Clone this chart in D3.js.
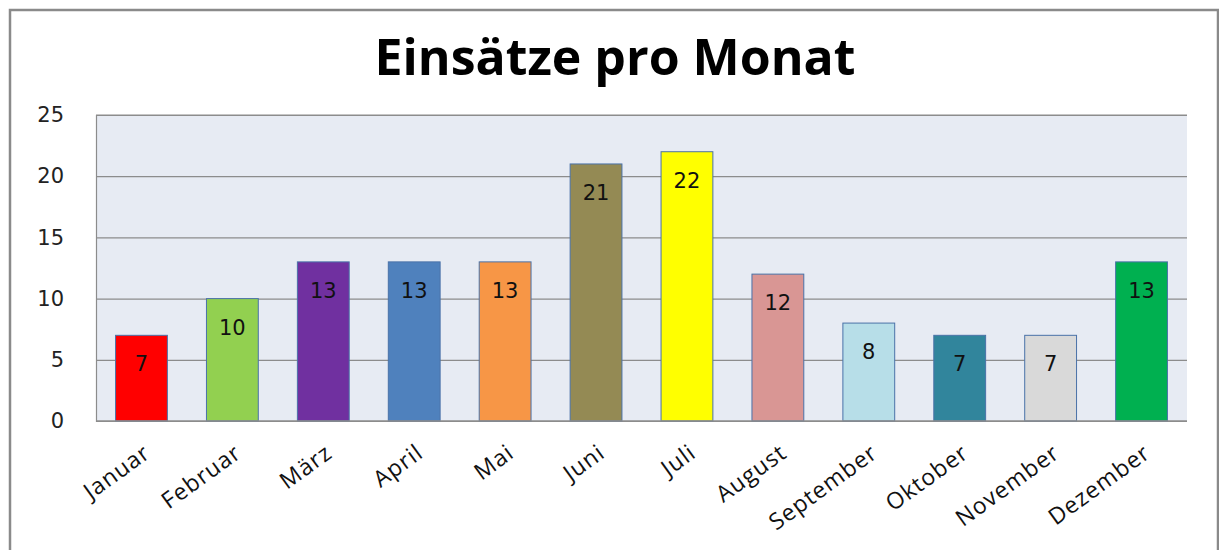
<!DOCTYPE html>
<html>
<head>
<meta charset="utf-8">
<script src="https://cdn.jsdelivr.net/npm/d3@7"></script>
<style>
  body { margin: 0; background: #fff; }
</style>
</head>
<body>
<svg id="chart" width="1219" height="550"></svg>
<script>
var months = ["Januar", "Februar", "März", "April", "Mai", "Juni", "Juli",
	"August", "September", "Oktober", "November", "Dezember"];
var einsaetze = [7, 10, 13, 13, 13, 21, 22, 12, 8, 7, 7, 13];
var barColors = ["#FF0000", "#92D050", "#7030A0", "#4F81BD", "#F79646", "#948A54",
	"#FFFF00", "#D99694", "#B7DEE8", "#31859C", "#D9D9D9", "#00B050"];
var yTicks = [0, 5, 10, 15, 20, 25];
var chartTitle = "Einsätze pro Monat";

var svg = d3.select("#chart");

var pLeft = 96, pRight = 1187, pTop = 115, pBottom = 421;
var numFont = "DejaVu Sans, sans-serif", labelFont = "Open Sans, sans-serif";

var xScale = d3.scaleBand().domain(months).range([pLeft, pRight]).paddingInner(0.43).paddingOuter(0.215);
var yScale = d3.scaleLinear().domain([0, 25]).range([pBottom, pTop]);

// outer frame
svg.append("path")
	.attr("d", "M10,550 V10 H1218 V550")
	.attr("fill", "none")
	.attr("stroke", "#8a8a8a")
	.attr("stroke-width", 2.5);

svg.append("text")
	.attr("x", 615)
	.attr("y", 75)
	.attr("text-anchor", "middle")
	.style("font-family", labelFont)
	.style("font-size", "50px")
	.style("font-weight", "bold")
	.attr("fill", "#000")
	.text(chartTitle);

// plot area
svg.append("rect")
	.attr("x", pLeft).attr("y", pTop)
	.attr("width", pRight - pLeft).attr("height", pBottom - pTop)
	.attr("fill", "#E7EBF3");

var yAxis = d3.axisLeft(yScale).tickValues(yTicks).tickSize(-(pRight - pLeft)).tickPadding(32);
var gy = svg.append("g")
	.attr("transform", "translate(" + pLeft + ",0)")
	.call(yAxis);
gy.select(".domain").attr("stroke", "#8c8c8c").attr("stroke-width", 1.2);
gy.selectAll(".tick line").attr("stroke", "#8c8c8c").attr("stroke-width", 1.2);
gy.selectAll(".tick text")
	.attr("fill", "#222")
	.style("font-size", "21px")
	.style("font-family", numFont);

svg.append("line")
	.attr("x1", pLeft).attr("x2", pRight)
	.attr("y1", pTop).attr("y2", pTop)
	.attr("stroke", "#8c8c8c").attr("stroke-width", 1.2);

var data = months.map(function(m, i) { return { month: m, val: einsaetze[i], col: barColors[i] }; });

svg.append("g").selectAll("rect")
	.data(data)
	.enter()
	.append("rect")
	.attr("x", function(d) { return xScale(d.month); })
	.attr("y", function(d) { return yScale(d.val); })
	.attr("width", xScale.bandwidth())
	.attr("height", function(d) { return pBottom - yScale(d.val); })
	.attr("fill", function(d) { return d.col; })
	.attr("stroke", "#4A72A8")
	.attr("stroke-width", 1);

svg.append("g").selectAll("text")
	.data(data)
	.enter()
	.append("text")
	.attr("x", function(d) { return xScale(d.month) + xScale.bandwidth() / 2; })
	.attr("y", function(d) { return yScale(d.val) + 36; })
	.attr("text-anchor", "middle")
	.style("font-size", "21px")
	.style("font-family", numFont)
	.attr("fill", "#111")
	.text(function(d) { return d.val; });

// x axis
svg.append("line")
	.attr("x1", pLeft).attr("x2", pRight)
	.attr("y1", pBottom).attr("y2", pBottom)
	.attr("stroke", "#8c8c8c").attr("stroke-width", 1.5);

svg.append("g").selectAll("text")
	.data(months)
	.enter()
	.append("text")
	.attr("transform", function(d) {
		var cx = xScale(d) + xScale.bandwidth() / 2;
		return "translate(" + (cx + 1) + "," + (pBottom + 22) + ") rotate(-36)";
	})
	.attr("text-anchor", "end")
	.attr("dy", "0.7em")
	.style("font-size", "23px")
	.style("letter-spacing", "1px")
	.style("font-family", labelFont)
	.attr("fill", "#111")
	.text(function(d) { return d; });
</script>
</body>
</html>
